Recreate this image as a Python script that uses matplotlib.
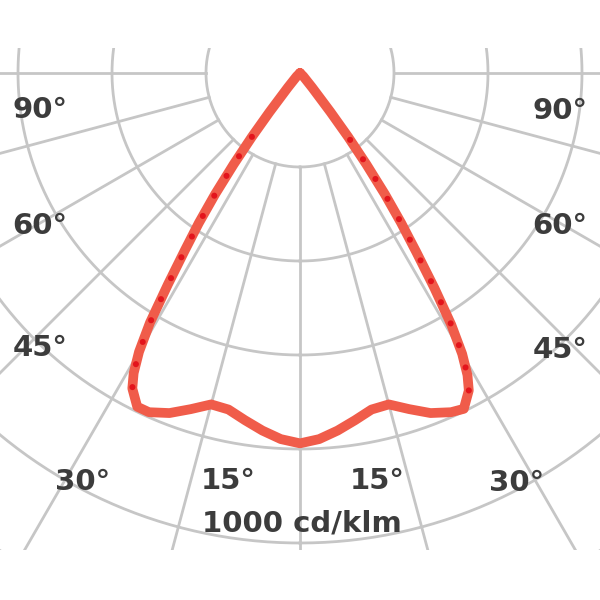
"""Lichtstärkeverteilung (LVK) als Polardiagramm, Ausschnitt um den Mittelpunkt."""

import numpy as np
import matplotlib
matplotlib.use("Agg")
import matplotlib.pyplot as plt

# ===================== Daten =====================
# Ausstrahlwinkel in Grad (0 = senkrecht nach unten), negativ = linke Seite
ANGLES = [-90, -45, -40, -38, -37, -36, -35, -34, -33, -32, -31, -30, -29, -28,
          -26, -24, -21, -18, -15, -12, -9, -6, -3, 0,
          3, 6, 9, 12, 15, 18, 21, 24, 26, 28,
          29, 30, 31, 32, 33, 34, 35, 36, 37, 38, 40, 45, 90]
# Lichtstärke in cd/klm
INTENSITY = [0, 10, 40, 105, 170, 240, 315, 385, 450, 530, 620, 685, 730, 760,
             790, 790, 775, 752, 730, 732, 748, 765, 780, 788,
             780, 765, 748, 732, 730, 752, 775, 790, 795, 765,
             735, 690, 625, 540, 455, 385, 315, 240, 170, 105, 40, 10, 0]

# Rasterkreise (cd/klm) und Strahlen (Grad)
RINGS = [200, 400, 600, 800, 1000, 1200]
RAYS = [-90, -75, -60, -45, -30, -15, 0, 15, 30, 45, 60, 75, 90]

# Winkelbeschriftungen
LABELS = ["90°", "60°", "45°", "30°", "15°", "15°", "30°", "45°", "60°", "90°"]
UNIT_LABEL = "1000 cd/klm"

# ===================== Layout =====================
S = 0.47            # Pixel pro cd/klm
CX, CY = 300, 75    # Mittelpunkt im Bild (Pixel)
LABEL_PX = [(40, 112), (40, 228), (40, 350), (83, 484), (228, 483),
            (377, 483), (517, 485), (560, 352), (560, 228), (560, 113)]
UNIT_PX = (302, 526)
DOT_RANGE = (27, 37)

GRID_COLOR = "#c6c6c6"
LINE_COLOR = "#f05c4a"
DOT_COLOR = "#e3141c"
TEXT_COLOR = "#3c3c3c"


def to_xy(theta_deg, r):
    t = np.radians(np.asarray(theta_deg, dtype=float))
    r = np.asarray(r, dtype=float)
    return r * np.sin(t), -r * np.cos(t)


def px_to_data(px, py):
    return (px - CX) / S, (CY - py) / S


fig = plt.figure(figsize=(6, 6), dpi=100)
ax = fig.add_axes([0, 50 / 600, 1, 502 / 600])
ax.set_xlim(-CX / S, (600 - CX) / S)
ax.set_ylim((CY - 552) / S, (CY - 50) / S)
ax.axis("off")

# Rasterkreise
full = np.linspace(0, 360, 721)
for r in RINGS:
    x, y = to_xy(full, np.full_like(full, r))
    ax.plot(x, y, color=GRID_COLOR, lw=2.0, zorder=1)

# Strahlen ab dem ersten Kreis
for a in RAYS:
    x, y = to_xy([a, a], [RINGS[0], 2000])
    ax.plot(x, y, color=GRID_COLOR, lw=2.0, zorder=1)

# Kurve C0-C180
x, y = to_xy(ANGLES, INTENSITY)
ax.plot(x, y, color=LINE_COLOR, lw=7, solid_joinstyle="round",
        solid_capstyle="round", zorder=3)

# Kurve C90-C270 (gepunktet, deckt sich weitgehend)
ang = np.array(ANGLES, dtype=float)
val = np.array(INTENSITY, dtype=float)
for sign in (-1, 1):
    m = (sign * ang >= DOT_RANGE[0]) & (sign * ang <= DOT_RANGE[1])
    x, y = to_xy(ang[m], val[m])
    ax.plot(x, y, color=DOT_COLOR, lw=4.4, dashes=(0.01, 3.8),
            dash_capstyle="round", zorder=4)

# Beschriftungen
for txt, (px, py) in zip(LABELS, LABEL_PX):
    xd, yd = px_to_data(px, py)
    ax.text(xd, yd, txt, ha="center", va="center", fontsize=21,
            fontweight="bold", color=TEXT_COLOR, zorder=5)
xd, yd = px_to_data(*UNIT_PX)
ax.text(xd, yd, UNIT_LABEL, ha="center", va="center", fontsize=21,
        fontweight="bold", color=TEXT_COLOR, zorder=5)

fig.savefig("out.png", dpi=100, facecolor="white")
